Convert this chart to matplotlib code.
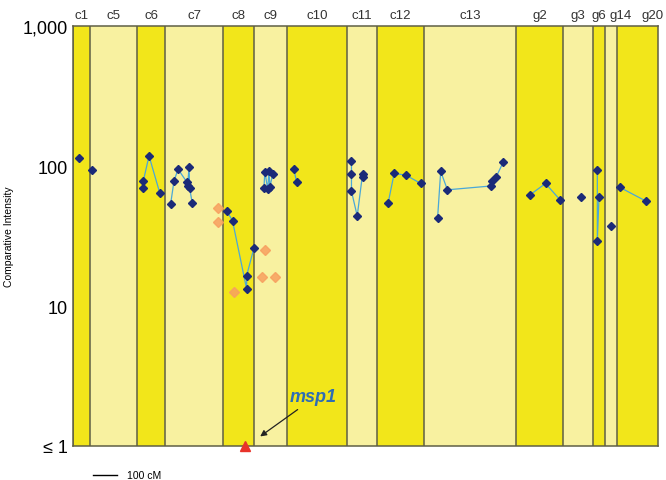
import numpy as np
import matplotlib.pyplot as plt

plt.rcParams['font.family'] = ['Liberation Sans', 'DejaVu Sans']

# chromosome / linkage group names and lengths (cM), laid end to end
chroms = ['c1', 'c5', 'c6', 'c7', 'c8', 'c9', 'c10', 'c11', 'c12', 'c13',
          'g2', 'g3', 'g6', 'g14', 'g20']
lengths = [71, 196, 117, 242, 129, 138, 250, 125, 196, 383,
           196, 125, 50, 50, 171]

# marker series: genome position (cM), comparative intensity
c1_x, c1_y = [26], [114]
c5_x, c5_y = [78], [93]
c6_x, c6_y = [293, 293, 317, 362], [70, 78, 118, 64]
c7_x, c7_y = [407, 421, 438, 474, 478, 484, 486, 497], [53.5, 78, 95, 77, 72, 99, 70, 54.5]
c8_x, c8_y = [640, 665, 724, 724, 754], [48, 40.7, 13.2, 16.5, 25.8]
c9_x, c9_y = [796, 800, 812, 817, 821, 833], [70, 91, 68, 92, 71, 88]
c10_x, c10_y = [921, 932], [95, 77]
c11_x, c11_y = [1161, 1161, 1161, 1185, 1207, 1210], [108, 88, 66, 44, 87, 84]
c12_x, c12_y = [1314, 1339, 1388, 1450], [54.5, 88.6, 86, 75]
c13_x, c13_y = [1520, 1533, 1561, 1743, 1747, 1765, 1793], [42.4, 91.5, 67.6, 72, 78, 84, 106]
g2_x, g2_y = [1904, 1970, 2032], [62, 75, 57]
g3_x, g3_y = [2120], [59.7]
g6_x, g6_y = [2186, 2186, 2193], [93.6, 29, 60]
g14_x, g14_y = [2245], [37.3]
g20_x, g20_y = [2279, 2390], [70.5, 56]

series = [(c1_x, c1_y), (c5_x, c5_y), (c6_x, c6_y), (c7_x, c7_y), (c8_x, c8_y),
          (c9_x, c9_y), (c10_x, c10_y), (c11_x, c11_y), (c12_x, c12_y),
          (c13_x, c13_y), (g2_x, g2_y), (g3_x, g3_y), (g6_x, g6_y),
          (g14_x, g14_y), (g20_x, g20_y)]

# other (orange) measurements
orange_x = [603, 603, 671, 788, 799, 842]
orange_y = [50, 39.6, 12.6, 16, 25.2, 16]

# msp1, below detection
msp1_x, msp1_y = [717], [1]

ytick_vals = [1, 10, 100, 1000]
ytick_labels = ['\u2264 1', '10', '100', '1,000']

bright = '#f2e61a'
pale = '#f8f1a0'
edge = '#5f5f45'

fig = plt.figure(figsize=(6.66, 4.81), dpi=100)
ax = fig.add_axes([73 / 666, 34 / 481, 585 / 666, 420 / 481])

bounds = np.concatenate([[0], np.cumsum(lengths)])
nudge = {'g14': 42, 'g20': 62}
for i, name in enumerate(chroms):
    ax.axvspan(bounds[i], bounds[i + 1], color=bright if i % 2 == 0 else pale,
               zorder=0, lw=0)
    ax.axvline(bounds[i], color=edge, lw=1.1, zorder=1)
    cx = (bounds[i] + bounds[i + 1]) / 2 + nudge.get(name, 0)
    ax.text(cx, 1.012, name, transform=ax.get_xaxis_transform(),
            ha='center', va='bottom', fontsize=9.5, color='#333333')

for xs, ys in series:
    ax.plot(xs, ys, color='#4aa8d8', lw=0.9, zorder=2)
    ax.plot(xs, ys, ls='None', marker='D', ms=4, color='#1b2a78', zorder=3)

ax.plot(orange_x, orange_y, ls='None', marker='D', ms=5, color='#f7a060',
        alpha=0.85, zorder=3)
ax.plot(msp1_x, msp1_y, ls='None', marker='^', ms=6.5, color='#e8332a',
        clip_on=False, zorder=4)

ax.annotate('', xy=(771, 1.14), xytext=(946, 1.87),
            arrowprops=dict(arrowstyle='-|>', color='#222222', lw=0.9,
                            mutation_scale=9))
ax.text(904, 2.27, 'msp1', fontsize=13, fontweight='bold', fontstyle='italic',
        color='#2e6db4', ha='left', va='center')

# scale bar
ax.plot([83, 183], [-0.069, -0.069], color='black', lw=1,
        transform=ax.get_xaxis_transform(), clip_on=False)
ax.text(225, -0.069, '100 cM', transform=ax.get_xaxis_transform(),
        fontsize=7.5, va='center', ha='left')

ax.set_yscale('log')
ax.set_ylim(1, 1000)
ax.set_xlim(0, bounds[-1])
ax.set_yticks(ytick_vals)
ax.set_yticklabels(ytick_labels, fontsize=13)
ax.minorticks_off()
ax.tick_params(axis='y', length=0, pad=4)
ax.set_xticks([])
ax.set_ylabel('Comparative Intensity', fontsize=7.5, labelpad=6)
for s in ax.spines.values():
    s.set_color(edge)
    s.set_linewidth(1.1)

fig.savefig('out.png', dpi=100)
